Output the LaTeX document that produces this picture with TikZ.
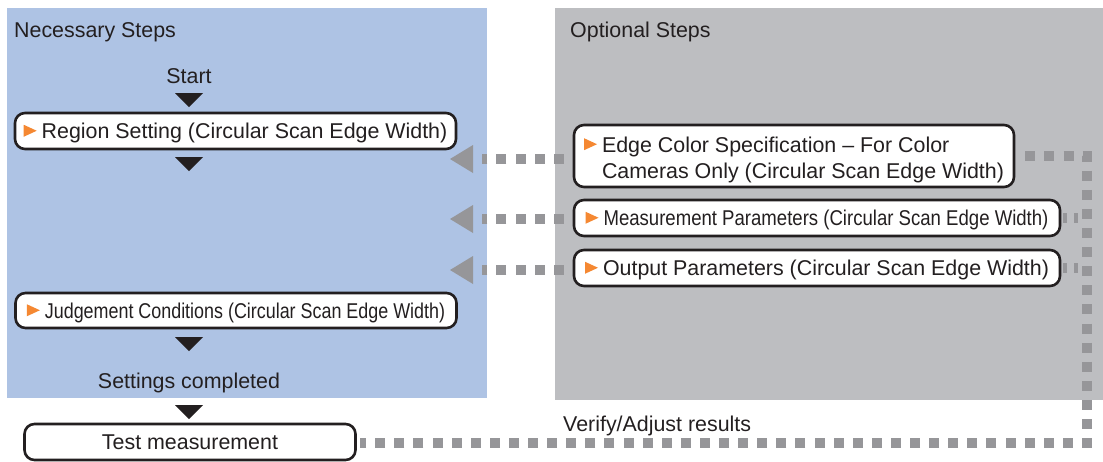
\documentclass[tikz,border=0pt]{standalone}
\usepackage{fontspec}
\setmainfont{Liberation Sans}
\usepackage{graphicx}
\usepackage{xcolor}
\usetikzlibrary{calc}
\definecolor{necblue}{RGB}{174,195,228}
\definecolor{optgray}{RGB}{189,190,193}
\definecolor{dotgray}{RGB}{150,150,153}
\definecolor{markorange}{RGB}{245,136,50}
\definecolor{inkblack}{RGB}{35,31,32}
\newcommand{\stepmark}{\tikz[baseline=-2pt]{\fill[markorange, sharp corners] (0pt,0pt) -- (0pt,12pt) -- (13pt,6pt) -- cycle;}\hspace{5pt}}

\begin{document}
\begin{tikzpicture}[x=1pt, y=-1pt, font=\fontsize{21.4}{26}\selectfont, text=inkblack,
  stepbox/.style={draw=inkblack, line width=2.6pt, fill=white, rounded corners=10pt,
    inner sep=0pt, minimum height=36pt, text depth=0pt},
  optlink/.style={draw=dotgray, line width=10pt, dash pattern=on 10pt off 9.1pt},
  flowtip/.style={fill=inkblack}]
\useasboundingbox (0,0) rectangle (1103,461);
% panels
\fill[necblue] (7,8) rectangle (487,398);
\fill[optgray] (555,8) rectangle (1103,400);
\node[anchor=base west, inner sep=0pt] (nectitle) at (14,37) {Necessary Steps};
\node[anchor=base west, inner sep=0pt] (opttitle) at (570,37) {Optional Steps};

% necessary steps
\node[anchor=base] (start) at (189,83) {Start};
\node[stepbox, minimum width=441pt] (region) at (235.5,131)
  {\stepmark Region Setting (Circular Scan Edge Width)};
\node[stepbox, minimum width=441pt, minimum height=35pt] (judge) at (236,310.5)
  {\stepmark\scalebox{0.837}[1]{Judgement Conditions (Circular Scan Edge Width)}};
\node[anchor=base] (done) at (189,388) {Settings completed};
\node[stepbox, minimum width=331pt] (test) at (190,442) {Test measurement};
\foreach \y in {93,157,337,405}
  \fill[flowtip] (175,\y) -- ++(28,0) -- ++(-14,14) -- cycle;

% optional steps
\node[stepbox, minimum width=440pt, minimum height=62pt, text depth=25.8pt] (edgecol) at (794,156)
  {\stepmark\begin{tabular}[t]{@{}l@{}}Edge Color Specification -- For Color\\
   Cameras Only (Circular Scan Edge Width)\end{tabular}};
\node[stepbox, minimum width=486pt] (meas) at (817,218)
  {\stepmark\scalebox{0.868}[1]{Measurement Parameters (Circular Scan Edge Width)}};
\node[stepbox, minimum width=486pt] (outp) at (817,268)
  {\stepmark Output Parameters (Circular Scan Edge Width)};

% links back into the flow
\coordinate (tipA) at (450,159);
\coordinate (tipB) at (450,219);
\coordinate (tipC) at (450,270);
\foreach \t in {A,B,C}
  \fill[dotgray] (tip\t) -- ++(23,-14) -- ++(0,28) -- cycle;
\draw[optlink] ($(edgecol.west |- tipA)+(-9,0)$) -- ($(tipA)+(32,0)$);
\draw[optlink] ($(meas.west |- tipB)+(-9,0)$) -- ($(tipB)+(32,0)$);
\draw[optlink] ($(outp.west |- tipC)+(-9,0)$) -- ($(tipC)+(32,0)$);

% verify / adjust loop
\coordinate (cornerT) at (1087,156);
\coordinate (cornerB) at (1087,443);
\draw[optlink] ([xshift=10pt]edgecol.east) -- (cornerT) -- (cornerB)
  -- ($(test.east |- cornerB)+(3,0)$);
\draw[optlink, dash pattern=on 4pt off 7pt] ([xshift=2pt]meas.east) -- ($(meas.east -| cornerT)+(-5,0)$);
\draw[optlink, dash pattern=on 4pt off 7pt] ([xshift=2pt]outp.east) -- ($(outp.east -| cornerT)+(-5,0)$);
\node[anchor=base west, inner sep=0pt] (verify) at (563,431) {Verify/Adjust results};
\end{tikzpicture}
\end{document}
